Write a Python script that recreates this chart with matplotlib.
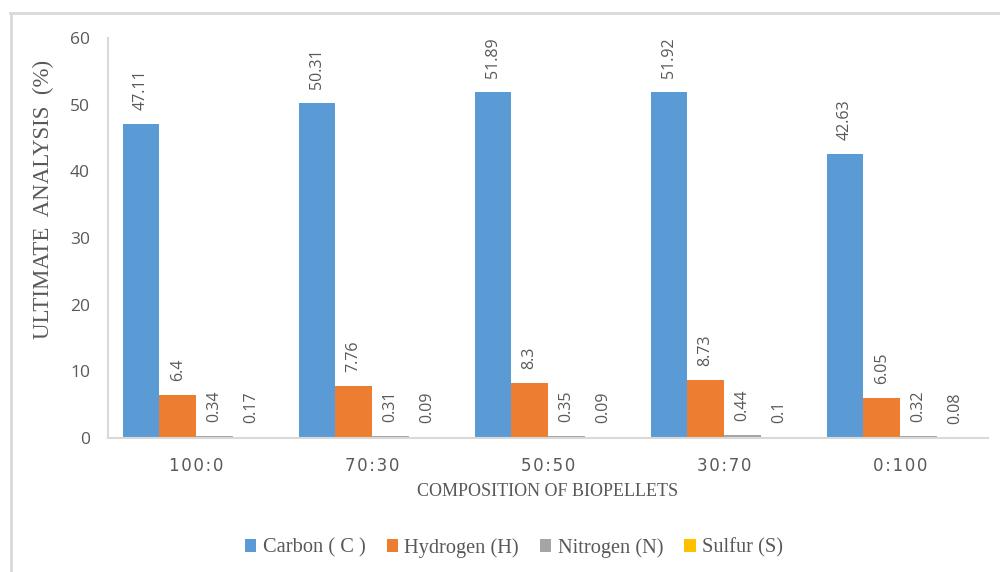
import matplotlib
matplotlib.use("Agg")
import matplotlib.pyplot as plt
from matplotlib.lines import Line2D
import numpy as np

# Biopellet compositions and ultimate analysis results (%)
compositions = ["100:0", "70:30", "50:50", "30:70", "0:100"]
series_names = ["Carbon ( C )", "Hydrogen (H)", "Nitrogen (N)", "Sulfur (S)"]
carbon = [47.11, 50.31, 51.89, 51.92, 42.63]
hydrogen = [6.4, 7.76, 8.3, 8.73, 6.05]
nitrogen = [0.34, 0.31, 0.35, 0.44, 0.32]
sulfur = [0.17, 0.09, 0.09, 0.1, 0.08]
value_labels = [
    ["47.11", "50.31", "51.89", "51.92", "42.63"],
    ["6.4", "7.76", "8.3", "8.73", "6.05"],
    ["0.34", "0.31", "0.35", "0.44", "0.32"],
    ["0.17", "0.09", "0.09", "0.1", "0.08"],
]
yticks = [0, 10, 20, 30, 40, 50, 60]

colors = ["#5B9BD5", "#ED7D31", "#A5A5A5", "#FFC000"]
text_gray = "#595959"
line_gray = "#D9D9D9"

fig = plt.figure(figsize=(10, 5.72), dpi=100)
ax = fig.add_axes([0.108, 0.2343, 0.880, 0.6993])

x = np.arange(len(compositions))
bar_w = 0.208
values = [carbon, hydrogen, nitrogen, sulfur]
for i, (vals, col, name) in enumerate(zip(values, colors, series_names)):
    pos = x + (i - 1.5) * bar_w
    bars = ax.bar(pos, vals, width=bar_w, color=col, label=name, linewidth=0)
    for b, lab in zip(bars, value_labels[i]):
        ax.annotate(lab, (b.get_x() + b.get_width() / 2, b.get_height()),
                    xytext=(0, 10), textcoords="offset points",
                    rotation=90, ha="center", va="bottom",
                    fontsize=11.5, color=text_gray, family="Open Sans")

ax.set_xlim(-0.5, len(compositions) - 0.5)
ax.set_ylim(0, 60)
ax.set_yticks(yticks)
ax.set_xticks(x)
ax.set_xticklabels(["\u200a".join(c) for c in compositions],
                   family="DejaVu Sans", fontsize=12, color=text_gray)
ax.set_yticklabels([str(t) for t in yticks], family="Open Sans",
                   fontsize=12.5, color=text_gray)
ax.tick_params(axis="both", length=0)
ax.tick_params(axis="x", pad=14)
ax.tick_params(axis="y", pad=13)

for s in ["top", "right"]:
    ax.spines[s].set_visible(False)
for s in ["left", "bottom"]:
    ax.spines[s].set_color(line_gray)
    ax.spines[s].set_linewidth(1.5)

fig.text(0.043, 0.652, "ULTIMATE  ANALYSIS  (%)", rotation=90,
         ha="center", va="center", family="Liberation Serif",
         fontsize=16.5, color=text_gray)
fig.text(0.548, 0.140, "COMPOSITION OF BIOPELLETS", ha="center",
         va="center", family="Liberation Serif", fontsize=13,
         color=text_gray)

leg = fig.legend(loc="center", bbox_to_anchor=(0.514, 0.042), ncol=4,
                 frameon=False, handlelength=0.55, handleheight=0.55,
                 handletextpad=0.3, columnspacing=1.05,
                 prop={"family": "Liberation Serif", "size": 14.7})
for t in leg.get_texts():
    t.set_color(text_gray)

# Outer chart frame (top and left edges)
fig.add_artist(Line2D([0.010, 1.0], [0.977, 0.977], color=line_gray,
                      lw=2, transform=fig.transFigure))
fig.add_artist(Line2D([0.011, 0.011], [0.0, 0.977], color=line_gray,
                      lw=2, transform=fig.transFigure))

fig.savefig("out.png", dpi=100)
